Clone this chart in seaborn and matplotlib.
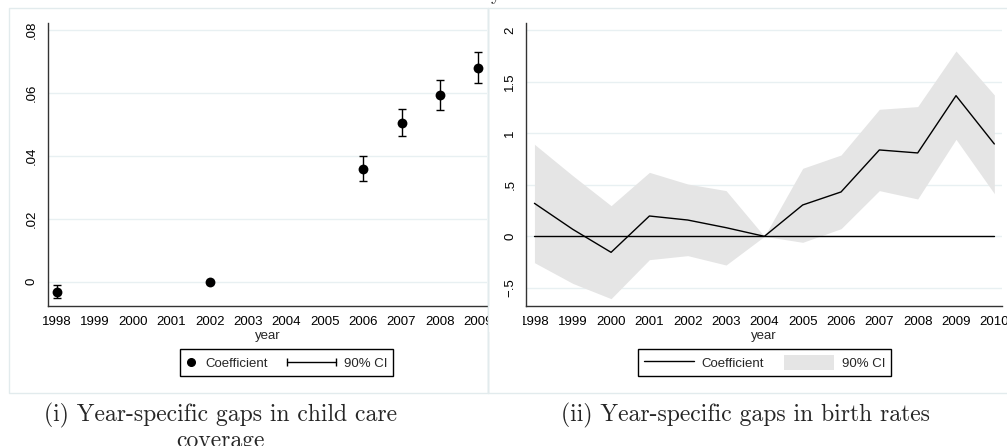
import numpy as np
import pandas as pd
import matplotlib
matplotlib.use("Agg")
import matplotlib.pyplot as plt
import seaborn as sns
from matplotlib.lines import Line2D
from matplotlib.patches import Patch, Rectangle
from matplotlib.legend_handler import HandlerBase

# ---------------- data ----------------
# Panel (i): child care coverage
cc_years = [1998, 2002, 2006, 2007, 2008, 2009]
cc_coef = [-0.0032, 0.0, 0.0359, 0.0504, 0.0592, 0.0679]
cc_lo = [-0.0051, np.nan, 0.0320, 0.0462, 0.0546, 0.0630]
cc_hi = [-0.0011, np.nan, 0.0399, 0.0548, 0.0640, 0.0729]
cc_xticks = list(range(1998, 2010))
cc_yticks = [0, 0.02, 0.04, 0.06, 0.08]
cc_yticklabels = ["0", ".02", ".04", ".06", ".08"]

# Panel (ii): birth rates
br_years = list(range(1998, 2011))
br_coef = [0.32, 0.068, -0.155, 0.197, 0.158, 0.084, 0.0, 0.304, 0.43, 0.837, 0.808, 1.363, 0.895]
br_hi = [0.892, 0.588, 0.297, 0.62, 0.507, 0.443, 0.0, 0.659, 0.788, 1.231, 1.257, 1.796, 1.37]
br_lo = [-0.255, -0.456, -0.604, -0.226, -0.187, -0.278, 0.0, -0.058, 0.074, 0.443, 0.362, 0.94, 0.414]
br_yticks = [-0.5, 0, 0.5, 1, 1.5, 2]
br_yticklabels = ["\u2212.5", "0", ".5", "1", "1.5", "2"]

caption_i = ["(i) Year-specific gaps in child care", "coverage"]
caption_ii = "(ii) Year-specific gaps in birth rates"

# ---------------- style ----------------
sns.set_style("white")
plt.rcParams["font.family"] = ["Liberation Sans", "DejaVu Sans"]
plt.rcParams["font.size"] = 9.5

W, H = 1007, 446
fig = plt.figure(figsize=(W / 100, H / 100), dpi=100)
fig.patch.set_facecolor("white")

def px_rect(x0, y0, x1, y1):
    return [x0 / W, 1 - y1 / H, (x1 - x0) / W, (y1 - y0) / H]

GRID = "#E8F0F2"
BORDER = "#E2EBED"
FILL = "#E5E5E5"
TICKFS = 9.5

fig.add_artist(Rectangle((9 / W, 1 - 393 / H), (488 - 9) / W, (393 - 8) / H,
                         transform=fig.transFigure, fill=False, edgecolor=BORDER, lw=1, zorder=0))
fig.add_artist(Rectangle((488 / W, 1 - 393 / H), (1015 - 488) / W, (393 - 8) / H,
                         transform=fig.transFigure, fill=False, edgecolor=BORDER, lw=1, zorder=0))

def style_axes(ax):
    for s in ["top", "right"]:
        ax.spines[s].set_visible(False)
    for s in ["left", "bottom"]:
        ax.spines[s].set_color("#333333")
        ax.spines[s].set_linewidth(1.0)
    ax.tick_params(axis="both", which="major", direction="out", length=5, width=1,
                   color="#333333", labelsize=TICKFS, labelcolor="black", pad=2)
    ax.tick_params(axis="y", labelrotation=90)
    for lbl in ax.get_yticklabels():
        lbl.set_va("center")
    ax.set_facecolor("white")


class HandlerDot(HandlerBase):
    def create_artists(self, legend, orig_handle, xdescent, ydescent, width, height,
                       fontsize, trans):
        y = -ydescent + height / 2
        ln = Line2D([-xdescent + width * 0.45], [y], color="black", marker="o",
                    markersize=5.5, linestyle="none", transform=trans)
        return [ln]


class HandlerCIWide(HandlerBase):
    # draws the range key leftwards into the column gap, like Stata's wide key
    def create_artists(self, legend, orig_handle, xdescent, ydescent, width, height,
                       fontsize, trans):
        y = -ydescent + height / 2
        ext = 2.8 * fontsize
        ln = Line2D([-xdescent - ext, -xdescent + width], [y, y], color="black", lw=1,
                    marker="|", markersize=6, markeredgewidth=1, transform=trans)
        return [ln]


# ---------------- panel (i) ----------------
ax1 = fig.add_axes(px_rect(47.7, 22.7, 487, 306))
df1 = pd.DataFrame({"year": cc_years, "coef": cc_coef, "lo": cc_lo, "hi": cc_hi})
for yv in cc_yticks:
    ax1.axhline(yv, color=GRID, lw=1, zorder=0)
ci = df1.dropna()
ax1.errorbar(ci["year"], ci["coef"], yerr=[ci["coef"] - ci["lo"], ci["hi"] - ci["coef"]],
             fmt="none", ecolor="black", elinewidth=1, capsize=3, capthick=1, zorder=2)
sns.scatterplot(data=df1, x="year", y="coef", ax=ax1, color="black", s=50,
                edgecolor="black", linewidth=0, zorder=3, legend=False)
ax1.set_xlim(1997.77, 2009.23)
ax1.set_ylim(-0.0077, 0.0823)
ax1.set_xticks(cc_xticks)
ax1.set_xticklabels([str(v) for v in cc_xticks])
ax1.set_yticks(cc_yticks)
ax1.set_yticklabels(cc_yticklabels)
ax1.set_xlabel("year", fontsize=TICKFS, labelpad=1.5)
ax1.set_ylabel("")
style_axes(ax1)

h_dot = Line2D([], [], color="black", marker="o", linestyle="none")
h_ci = Line2D([], [], color="black", lw=1)
leg1 = ax1.legend([h_dot, h_ci], ["Coefficient", "90% CI"], ncol=2,
                  handler_map={h_dot: HandlerDot(), h_ci: HandlerCIWide()},
                  loc="center", bbox_to_anchor=(286.5 / W, 1 - 362.5 / H),
                  bbox_transform=fig.transFigure, frameon=True, fancybox=False,
                  edgecolor="black", framealpha=1, fontsize=TICKFS, handlelength=0.9,
                  handleheight=1.3, columnspacing=4.2, borderpad=0.45, handletextpad=0.6,
                  borderaxespad=0)
leg1.get_frame().set_linewidth(1)

# ---------------- panel (ii) ----------------
ax2 = fig.add_axes(px_rect(526, 22.7, 1002, 306))
df2 = pd.DataFrame({"year": br_years, "coef": br_coef, "lo": br_lo, "hi": br_hi})
for yv in br_yticks:
    ax2.axhline(yv, color=GRID, lw=1, zorder=0)
ax2.fill_between(df2["year"], df2["lo"], df2["hi"], color=FILL, lw=0, zorder=1)
ax2.plot([br_years[0], br_years[-1]], [0, 0], color="black", lw=1, zorder=2)
sns.lineplot(data=df2, x="year", y="coef", ax=ax2, color="black", lw=1, zorder=3,
             legend=False)
ax2.set_xlim(1997.78, 2010.2)
ax2.set_ylim(-0.675, 2.07)
ax2.set_xticks(br_years)
ax2.set_xticklabels([str(v) for v in br_years])
ax2.set_yticks(br_yticks)
ax2.set_yticklabels(br_yticklabels)
ax2.set_xlabel("year", fontsize=TICKFS, labelpad=1.5)
ax2.set_ylabel("")
style_axes(ax2)

h_line = Line2D([], [], color="black", lw=1)
h_patch = Patch(facecolor=FILL, edgecolor="none")
leg2 = ax2.legend([h_line, h_patch], ["Coefficient", "90% CI"], ncol=2,
                  loc="center", bbox_to_anchor=(764.5 / W, 1 - 362.5 / H),
                  bbox_transform=fig.transFigure, frameon=True, fancybox=False,
                  edgecolor="black", framealpha=1, fontsize=TICKFS, handlelength=3.8,
                  handleheight=1.3, columnspacing=1.5, borderpad=0.45, handletextpad=0.6,
                  borderaxespad=0)
leg2.get_frame().set_linewidth(1)

# mask the clipped "2009" label at the panel edge, then redraw the divider
fig.add_artist(Rectangle((488.5 / W, 1 - 332 / H), 34 / W, 26 / H,
                         transform=fig.transFigure, facecolor="white", edgecolor="none", zorder=10))
fig.add_artist(Line2D([488 / W, 488 / W], [1 - 393 / H, 1 - 8 / H], transform=fig.transFigure,
                      color=BORDER, lw=1, zorder=11))

# clipped title descender at top
fig.text(495 / W, 1 - 1.5 / H, "y", fontsize=13, family="cmr10", ha="center", va="baseline")

# captions
fig.text(220 / W, 1 - 421 / H, caption_i[0], fontsize=17, family="cmr10", ha="center", va="baseline")
fig.text(220 / W, 1 - 446.5 / H, caption_i[1], fontsize=17, family="cmr10", ha="center", va="baseline")
fig.text(745 / W, 1 - 421 / H, caption_ii, fontsize=17, family="cmr10", ha="center", va="baseline")

fig.savefig("out.png", dpi=100, facecolor="white")
